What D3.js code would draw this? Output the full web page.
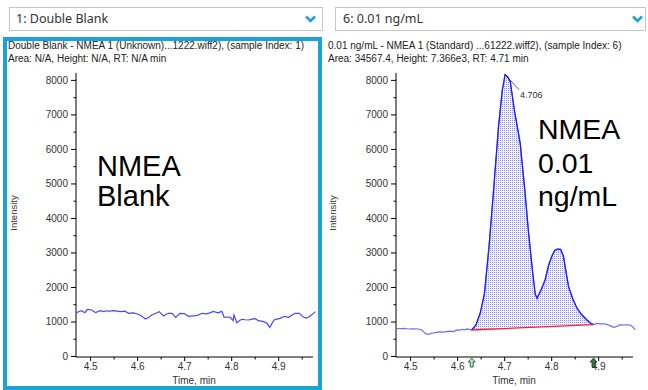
<!DOCTYPE html>
<html>
<head>
<meta charset="utf-8">
<script src="https://cdn.jsdelivr.net/npm/d3@7"></script>
<style>
  body { margin: 0; background: #fff; }
  svg { display: block; }
</style>
</head>
<body>
<div id="container"></div>
<script>
//Data
const blankTime = [4.470, 4.476, 4.482, 4.489, 4.494, 4.503, 4.512, 4.521, 4.530, 4.535, 4.542, 4.550, 4.557, 4.564, 4.574, 4.582, 4.590, 4.596, 4.606, 4.612, 4.618, 4.625, 4.631, 4.640, 4.647, 4.656, 4.662, 4.667, 4.674, 4.682, 4.691, 4.700, 4.709, 4.718, 4.727, 4.738, 4.747, 4.755, 4.762, 4.772, 4.780, 4.785, 4.792, 4.798, 4.804, 4.806, 4.812, 4.818, 4.823, 4.830, 4.837, 4.844, 4.851, 4.858, 4.864, 4.869, 4.876, 4.882, 4.891, 4.897, 4.904, 4.913, 4.922, 4.929, 4.936, 4.945, 4.954, 4.960, 4.965, 4.972, 4.979];
const blankIntensity = [1237, 1290, 1314, 1256, 1353, 1333, 1256, 1314, 1285, 1310, 1300, 1314, 1300, 1285, 1300, 1237, 1250, 1237, 1188, 1130, 1072, 1120, 1188, 1240, 1285, 1159, 1210, 1237, 1237, 1121, 1237, 1230, 1150, 1160, 1169, 1237, 1220, 1250, 1294, 1250, 1294, 1121, 1130, 1121, 1024, 1188, 966, 1030, 1063, 1050, 1043, 1070, 1082, 1024, 1010, 995, 947, 831, 1043, 1070, 1092, 1150, 1121, 1180, 1237, 1237, 1121, 1100, 1130, 1200, 1285];

const stdTime = [4.470, 4.478, 4.486, 4.496, 4.506, 4.517, 4.524, 4.528, 4.534, 4.539, 4.546, 4.553, 4.562, 4.570, 4.578, 4.586, 4.592, 4.599, 4.605, 4.610, 4.616, 4.621, 4.626, 4.631, 4.640, 4.649, 4.658, 4.668, 4.677, 4.688, 4.696, 4.702, 4.708, 4.713, 4.722, 4.734, 4.744, 4.752, 4.760, 4.766, 4.770, 4.778, 4.787, 4.795, 4.801, 4.807, 4.813, 4.820, 4.826, 4.832, 4.837, 4.846, 4.855, 4.866, 4.876, 4.884, 4.890, 4.897, 4.905, 4.912, 4.918, 4.925, 4.933, 4.940, 4.946, 4.953, 4.960, 4.968, 4.973, 4.979];
const stdIntensity = [802, 790, 800, 783, 790, 783, 760, 705, 640, 628, 660, 676, 700, 690, 705, 720, 700, 754, 740, 773, 760, 783, 770, 754, 900, 1237, 1800, 3200, 4716, 6646, 7700, 8150, 8080, 7950, 7100, 6174, 4800, 3565, 2500, 1800, 1672, 1900, 2203, 2650, 2878, 3050, 3100, 3090, 2900, 2400, 2009, 1650, 1382, 1180, 1043, 950, 910, 947, 930, 935, 918, 880, 831, 860, 900, 899, 905, 899, 850, 754];

//Integrated peak: start / end times and baseline intensities
const peakStart = 4.631, peakEnd = 4.890;
const peakBaseline = [754, 910];
const peakApex = { time: 4.702, intensity: 8150, label: '4.706' };

const yTicks = [0, 1000, 2000, 3000, 4000, 5000, 6000, 7000, 8000];
const yMinorTicks = [500, 1500, 2500, 3500, 4500, 5500, 6500, 7500];
const xTicks = [4.5, 4.6, 4.7, 4.8, 4.9];
const xMinorTicks = [4.55, 4.65, 4.75, 4.85, 4.95];

const panels = [
  { dropdown: '1: Double Blank',
    header: ['Double Blank - NMEA 1 (Unknown)...1222.wiff2), (sample Index: 1)', 'Area: N/A, Height: N/A, RT: N/A min'],
    note: ['NMEA', 'Blank'], time: blankTime, intensity: blankIntensity, peak: false },
  { dropdown: '6: 0.01 ng/mL',
    header: ['0.01 ng/mL - NMEA 1 (Standard) ...61222.wiff2), (sample Index: 6)', 'Area: 34567.4, Height: 7.366e3, RT: 4.71 min'],
    note: ['NMEA', '0.01', 'ng/mL'], time: stdTime, intensity: stdIntensity, peak: true }
];

const chartFont = '"Liberation Sans", Arial, sans-serif';
const width = 648, height = 390;
const svg = d3.select('#container').append('svg')
  .attr('width', width)
  .attr('height', height)
  .style('font-family', chartFont);

//Dotted fill used by the integrated peak
const pat = svg.append('defs').append('pattern')
  .attr('id', 'dots')
  .attr('width', 2).attr('height', 2)
  .attr('patternUnits', 'userSpaceOnUse');
pat.append('rect').attr('width', 2).attr('height', 2).attr('fill', '#f2f2ff');
pat.append('rect').attr('width', 1).attr('height', 1).attr('fill', '#8c8cff');

const y = d3.scaleLinear().domain([0, 8200]).range([356, 73]);

panels.forEach((p, i) => {
  const ox = i * 320;
  const g = svg.append('g').attr('transform', `translate(${ox},0)`);
  const x = d3.scaleLinear().domain([4.47, 4.974]).range([76, 313]);

  //dropdown box
  g.append('rect')
    .attr('x', i ? 15.5 : 9.5).attr('y', 7.5)
    .attr('width', i ? 310 : 313).attr('height', 23)
    .attr('fill', '#fff').attr('stroke', '#c6c6c6');
  g.append('text')
    .attr('x', i ? 23 : 16).attr('y', 23)
    .style('font-family', '"Noto Sans", sans-serif')
    .style('font-size', '12.5px')
    .attr('fill', '#333')
    .text(p.dropdown);
  const cx = i ? 317.5 : 310.5;
  g.append('path')
    .attr('d', `M${cx - 4.5},16.5L${cx},21L${cx + 4.5},16.5`)
    .attr('fill', 'none').attr('stroke', '#1ba1e2').attr('stroke-width', 2.6);

  //header lines
  g.selectAll('.hdr')
    .data(p.header)
    .enter().append('text')
    .attr('class', 'hdr')
    .attr('x', 8).attr('y', (d, k) => 49 + k * 13)
    .style('font-size', '10px')
    .attr('fill', '#222')
    .text(d => d);

  //axes
  g.append('g')
    .attr('transform', 'translate(76,0)')
    .call(d3.axisLeft(y).tickValues(yTicks).tickSize(5).tickSizeOuter(0).tickPadding(3).tickFormat(d3.format('d')))
    .call(a => a.select('.domain').attr('d', 'M0,73V357'));
  g.append('g')
    .attr('transform', 'translate(76,0)')
    .call(d3.axisLeft(y).tickValues(yMinorTicks).tickSize(2.5).tickFormat(''))
    .call(a => a.select('.domain').remove());
  g.append('g')
    .attr('transform', 'translate(0,357)')
    .call(d3.axisBottom(x).tickValues(xTicks).tickSize(4).tickSizeOuter(0).tickPadding(2).tickFormat(d3.format('.1f')))
    .call(a => a.select('.domain').attr('d', 'M76,0H313'));
  g.append('g')
    .attr('transform', 'translate(0,357)')
    .call(d3.axisBottom(x).tickValues(xMinorTicks).tickSize(2.5).tickFormat(''))
    .call(a => a.select('.domain').remove());
  g.selectAll('.tick text')
    .style('font-family', chartFont)
    .style('font-size', '10px')
    .attr('fill', '#333');

  g.append('text')
    .attr('x', 194).attr('y', 384)
    .attr('text-anchor', 'middle')
    .style('font-size', '10px').attr('fill', '#333')
    .text('Time, min');
  g.append('text')
    .attr('transform', `translate(${i ? 16 : 17},213) rotate(-90)`)
    .attr('text-anchor', 'middle')
    .style('font-size', '9.5px').attr('fill', '#333')
    .text('Intensity');

  const pts = p.time.map((t, k) => [t, p.intensity[k]]);
  const line = d3.line().x(d => x(d[0])).y(d => y(d[1]));

  if (p.peak) {
    const inPeak = pts.filter(d => d[0] >= peakStart && d[0] <= peakEnd);
    const base = d3.scaleLinear().domain([peakStart, peakEnd]).range(peakBaseline);
    const area = d3.area()
      .x(d => x(d[0]))
      .y0(d => y(base(d[0])))
      .y1(d => y(d[1]));
    g.append('path').attr('d', area(inPeak)).attr('fill', 'url(#dots)');
    g.append('path').attr('d', line(pts))
      .attr('fill', 'none').attr('stroke', '#6b6bff').attr('stroke-width', 1.2);
    g.append('path').attr('d', line(inPeak))
      .attr('fill', 'none').attr('stroke', '#1a1aff').attr('stroke-width', 1.2);
    g.append('path')
      .attr('d', line([[peakStart, peakBaseline[0]], [peakEnd, peakBaseline[1]]]))
      .attr('stroke', '#ff2020').attr('stroke-width', 1.3);

    //apex label
    const ax = x(peakApex.time), ay = y(peakApex.intensity);
    g.append('line')
      .attr('x1', ax).attr('y1', ay).attr('x2', ax + 14).attr('y2', ay + 15)
      .attr('stroke', '#333').attr('stroke-width', 0.8);
    g.append('text')
      .attr('x', ax + 15).attr('y', ay + 23)
      .style('font-size', '9px').attr('fill', '#333')
      .text(peakApex.label);

    //start / end markers under the axis
    [[peakStart, '#a8f0b8'], [peakEnd, '#2f7d45']].forEach(([t, c]) => {
      const mx = x(t);
      g.append('path')
        .attr('d', `M${mx},358L${mx - 3.5},362L${mx - 1.5},362L${mx - 1.5},367L${mx + 1.5},367L${mx + 1.5},362L${mx + 3.5},362Z`)
        .attr('fill', c).attr('stroke', '#1c3c24').attr('stroke-width', 0.8);
    });
  } else {
    g.append('path').attr('d', line(pts))
      .attr('fill', 'none').attr('stroke', '#4747ff').attr('stroke-width', 1.2);
  }

  //sample annotation
  const nt = g.append('text')
    .style('font-size', i ? '28.5px' : '29px')
    .attr('fill', '#000');
  nt.selectAll('tspan')
    .data(p.note)
    .enter().append('tspan')
    .attr('x', i ? 218 : 97)
    .attr('y', (d, k) => i ? 139 + k * 33.5 : 176 + k * 30)
    .text(d => d);
});

//selected panel outline
svg.append('rect')
  .attr('x', 5).attr('y', 39)
  .attr('width', 315).attr('height', 349)
  .attr('fill', 'none').attr('stroke', '#19a3da').attr('stroke-width', 4);
</script>
</body>
</html>
